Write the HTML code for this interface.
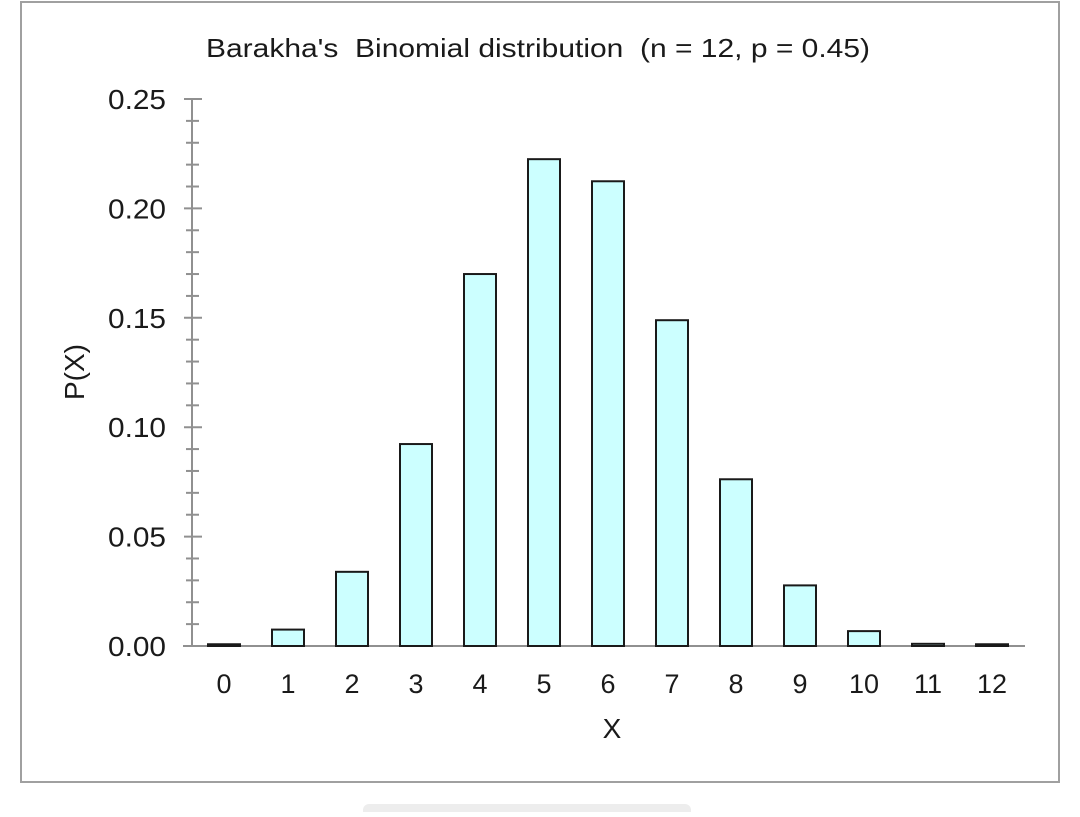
<!DOCTYPE html>
<html><head><meta charset="utf-8"><style>
body{margin:0;background:#fff;}
svg text{font-family:"Liberation Sans",Arial,sans-serif;fill:#1a1a1a;}
</style></head><body>
<svg width="1080" height="812">
<rect x="21" y="2" width="1038" height="780" fill="#fff" stroke="#a0a0a0" stroke-width="2"/>
<rect x="363" y="804" width="328" height="14" rx="6" fill="#ededed"/>
<text x="206" y="57" font-size="26" textLength="664" lengthAdjust="spacingAndGlyphs" xml:space="preserve">Barakha's  Binomial distribution  (n = 12, p = 0.45)</text>
<text x="612" y="738" text-anchor="middle" font-size="28">X</text>
<text transform="translate(84,372) rotate(-90)" text-anchor="middle" font-size="28">P(X)</text>
<g id="axes"></g>
<g id="bars"></g>
</svg>
<script>
const categories=[0,1,2,3,4,5,6,7,8,9,10,11,12];
const probabilities=[0.0008,0.0075,0.0339,0.0923,0.1700,0.2225,0.2124,0.1489,0.0762,0.0277,0.0068,0.0010,0.0008];
const yTicks=[0,0.05,0.10,0.15,0.20,0.25];
const yTickLabels=["0.00","0.05","0.10","0.15","0.20","0.25"];
const NS="http://www.w3.org/2000/svg";
const y0=646,yTop=99,yMax=0.25;
function yScale(v){return y0-(v/yMax)*(y0-yTop);}
function xScale(i){return 224+64*i;}
function mk(t,a,p){const e=document.createElementNS(NS,t);for(const k in a)e.setAttribute(k,a[k]);p.appendChild(e);return e;}
const ax=document.getElementById('axes');
const yl=mk('line',{x1:192,y1:yTop,x2:192,y2:y0,stroke:'#909090','stroke-width':2},ax);


for(let k=0;k<=25;k++){
  const v=k*0.01,y=yScale(v),major=k%5===0;
  const t=mk('line',{x1:major?184:186,x2:major?202:199,y1:y,y2:y,stroke:'#909090','stroke-width':2},ax);
  
  
}
yTicks.forEach((v,i)=>{
  const t=mk('text',{x:166,y:yScale(v)+10,'text-anchor':'end','font-size':28,'textLength':58,'lengthAdjust':'spacingAndGlyphs'},ax);
  t.textContent=yTickLabels[i];
  
  
});
const bg=document.getElementById('bars');
categories.forEach((c,i)=>{
  const y=yScale(probabilities[i]);
  const r=mk('rect',{x:xScale(i)-16,y:y,width:32,height:Math.max(y0-y,0.5),fill:'#ccffff',stroke:'#1a1a1a','stroke-width':2},bg);
  
  
  const t=mk('text',{x:xScale(i),y:y0+47,'text-anchor':'middle','font-size':27},bg);
  t.textContent=c;
  
  
});
const xl=mk('line',{x1:183,y1:y0,x2:1025,y2:y0,stroke:'#909090','stroke-width':2},ax);


</script>
</body></html>
